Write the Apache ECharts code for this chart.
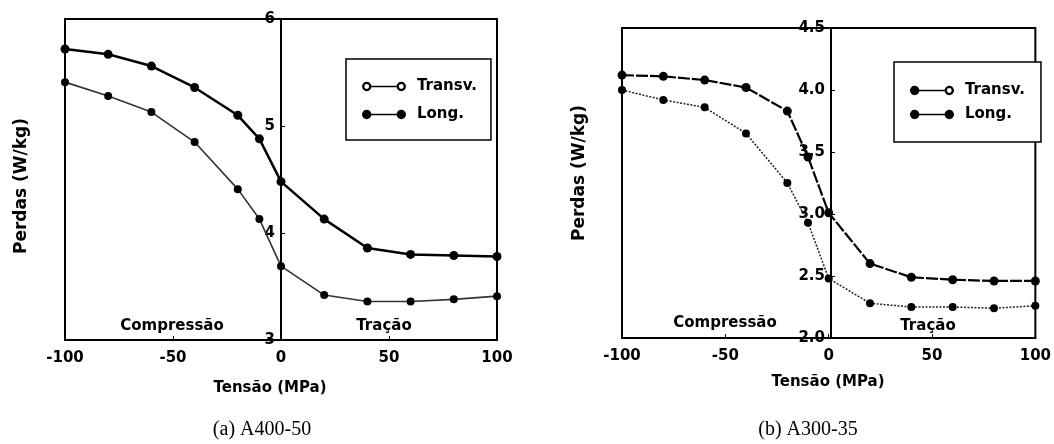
<!DOCTYPE html>
<html><head><meta charset="utf-8">
<script src="https://cdn.jsdelivr.net/npm/echarts/dist/echarts.min.js"></script>
<style>html,body{margin:0;padding:0;background:#fff}#c{width:1054px;height:444px}</style>
</head><body><div id="c"></div><script>
// ---- data ----
const stress = [-100, -80, -60, -40, -20, -10, 0, 20, 40, 60, 80, 100];
const aTransv = [5.72, 5.67, 5.56, 5.36, 5.10, 4.88, 4.48, 4.13, 3.86, 3.80, 3.79, 3.78];
const aLong   = [5.41, 5.28, 5.13, 4.85, 4.41, 4.13, 3.69, 3.42, 3.36, 3.36, 3.38, 3.41];
const bTransv = [4.12, 4.11, 4.08, 4.02, 3.83, 3.46, 3.01, 2.60, 2.49, 2.47, 2.46, 2.46];
const bLong   = [4.00, 3.92, 3.86, 3.65, 3.25, 2.93, 2.48, 2.28, 2.25, 2.25, 2.24, 2.26];
const xTicks = [-100, -50, 0, 50, 100];
const yTicksA = [3, 4, 5, 6];
const yTicksB = [2.0, 2.5, 3.0, 3.5, 4.0, 4.5];
const seriesNames = ['Transv.', 'Long.'];
const captions = ['(a) A400-50', '(b) A300-35'];
const xTitle = 'Tensão (MPa)';
const yTitle = 'Perdas (W/kg)';
const regionLabels = ['Compressão', 'Tração'];

const pairs = ys => stress.map((x, i) => [x, ys[i]]);
const F = 'DejaVu Sans';
const bold = {fontFamily: F, fontWeight: 'bold', color: '#000'};

// grid layout
const grids = [
  {left: 65, top: 19, width: 432, height: 321},
  {left: 622, top: 28, width: 418, height: 310}
];
// shift of the y axis from the left edge to the x = 0 position
const zeroShift = g => -g.width * (0 - xTicks[0]) / (xTicks[xTicks.length - 1] - xTicks[0]);

// legend icons: marker - line - marker
const ringL = 'M0.5,5 A4.5,4.5 0 1,1 9.5,5 A4.5,4.5 0 1,1 0.5,5 Z M2.7,5 A2.3,2.3 0 1,0 7.3,5 A2.3,2.3 0 1,0 2.7,5 Z';
const ringR = 'M33.5,5 A4.5,4.5 0 1,1 42.5,5 A4.5,4.5 0 1,1 33.5,5 Z M35.7,5 A2.3,2.3 0 1,0 40.3,5 A2.3,2.3 0 1,0 35.7,5 Z';
const dotL = 'M0.5,5 A4.5,4.5 0 1,1 9.5,5 A4.5,4.5 0 1,1 0.5,5 Z';
const dotR = 'M33.5,5 A4.5,4.5 0 1,1 42.5,5 A4.5,4.5 0 1,1 33.5,5 Z';
const bar = 'M9,4.2 L34,4.2 L34,5.8 L9,5.8 Z';
const iconRingRing = 'path://' + ringL + ' ' + bar + ' ' + ringR;
const iconDotRing = 'path://' + dotL + ' ' + bar + ' ' + ringR;
const iconDotDot = 'path://' + dotL + ' ' + bar + ' ' + dotR;

function xAx(g) {
  return {
    type: 'value', gridIndex: g, min: xTicks[0], max: xTicks[xTicks.length - 1],
    interval: xTicks[1] - xTicks[0],
    axisLine: {show: true, onZero: false, lineStyle: {color: '#000', width: 2}},
    axisTick: {show: true, inside: true, length: 4, lineStyle: {color: '#000'}},
    axisLabel: Object.assign({fontSize: 15, margin: 11}, bold),
    splitLine: {show: false}
  };
}
function yAx(g, ticks, fmt) {
  return {
    type: 'value', gridIndex: g, min: ticks[0], max: ticks[ticks.length - 1],
    interval: ticks[1] - ticks[0],
    offset: zeroShift(grids[g]),
    axisLine: {show: true, onZero: false, lineStyle: {color: '#000', width: 2}},
    axisTick: {show: true, inside: true, length: 4, lineStyle: {color: '#000'}},
    axisLabel: Object.assign({fontSize: 15, margin: 6, formatter: fmt, showMinLabel: true, showMaxLabel: true}, bold),
    splitLine: {show: false}
  };
}
function legendOf(left, top, pad, gap, icons) {
  return {
    orient: 'vertical', left: left, top: top, padding: pad, itemGap: gap,
    itemWidth: 44, itemHeight: 10, borderColor: '#000', borderWidth: 1.5,
    backgroundColor: '#fff',
    data: [{name: seriesNames[0], icon: icons[0]}, {name: seriesNames[1], icon: icons[1]}],
    itemStyle: {color: '#000', borderWidth: 0},
    textStyle: Object.assign({fontSize: 15, padding: [0, 0, 0, 6]}, bold)
  };
}
function txt(x, y, s, opts) {
  return {type: 'text', x: x, y: y, style: Object.assign({
    text: s, fill: '#000', font: 'bold 15px "DejaVu Sans"', textAlign: 'center', textVerticalAlign: 'middle'
  }, opts || {})};
}

const chart = echarts.init(document.getElementById('c'), null, {renderer: 'canvas'});
chart.setOption({
  animation: false,
  backgroundColor: '#fff',
  grid: grids.map(g => Object.assign({show: true, borderColor: '#000', borderWidth: 2}, g)),
  xAxis: [xAx(0), xAx(1)],
  yAxis: [yAx(0, yTicksA, v => String(v)), yAx(1, yTicksB, v => v.toFixed(1))],
  legend: [
    legendOf(346, 59, [20, 14, 18, 16], 13, [iconRingRing, iconDotDot]),
    legendOf(894, 62, [21, 16, 20, 16], 9, [iconDotRing, iconDotDot])
  ],
  series: [
    {type: 'line', name: seriesNames[0], xAxisIndex: 0, yAxisIndex: 0, data: pairs(aTransv),
     symbol: 'circle', symbolSize: 9, z: 3,
     itemStyle: {color: '#000'},
     lineStyle: {color: '#000', width: 2.5}},
    {type: 'line', name: seriesNames[1], xAxisIndex: 0, yAxisIndex: 0, data: pairs(aLong),
     symbol: 'circle', symbolSize: 8, z: 3,
     itemStyle: {color: '#000'},
     lineStyle: {color: '#333', width: 1.6}},
    {type: 'line', name: seriesNames[0], xAxisIndex: 1, yAxisIndex: 1, data: pairs(bTransv),
     symbol: 'circle', symbolSize: 9, z: 3,
     itemStyle: {color: '#000'},
     lineStyle: {color: '#000', width: 2.2, type: [12, 2]}},
    {type: 'line', name: seriesNames[1], xAxisIndex: 1, yAxisIndex: 1, data: pairs(bLong),
     symbol: 'circle', symbolSize: 8, z: 3,
     itemStyle: {color: '#000'},
     lineStyle: {color: '#222', width: 1.5, type: [2, 1.5]}}
  ],
  graphic: [
    txt(172, 326, regionLabels[0]),
    txt(384, 326, regionLabels[1]),
    txt(725, 323, regionLabels[0]),
    txt(928, 326, regionLabels[1]),
    txt(270, 388, xTitle),
    txt(828, 382, xTitle),
    Object.assign(txt(22, 186, yTitle, {font: 'bold 17px "DejaVu Sans"'}), {rotation: Math.PI / 2}),
    Object.assign(txt(580, 173, yTitle, {font: 'bold 17px "DejaVu Sans"'}), {rotation: Math.PI / 2}),
    txt(262, 430, captions[0], {font: '20px "Liberation Serif"'}),
    txt(808, 430, captions[1], {font: '20px "Liberation Serif"'})
  ]
});
</script></body></html>
